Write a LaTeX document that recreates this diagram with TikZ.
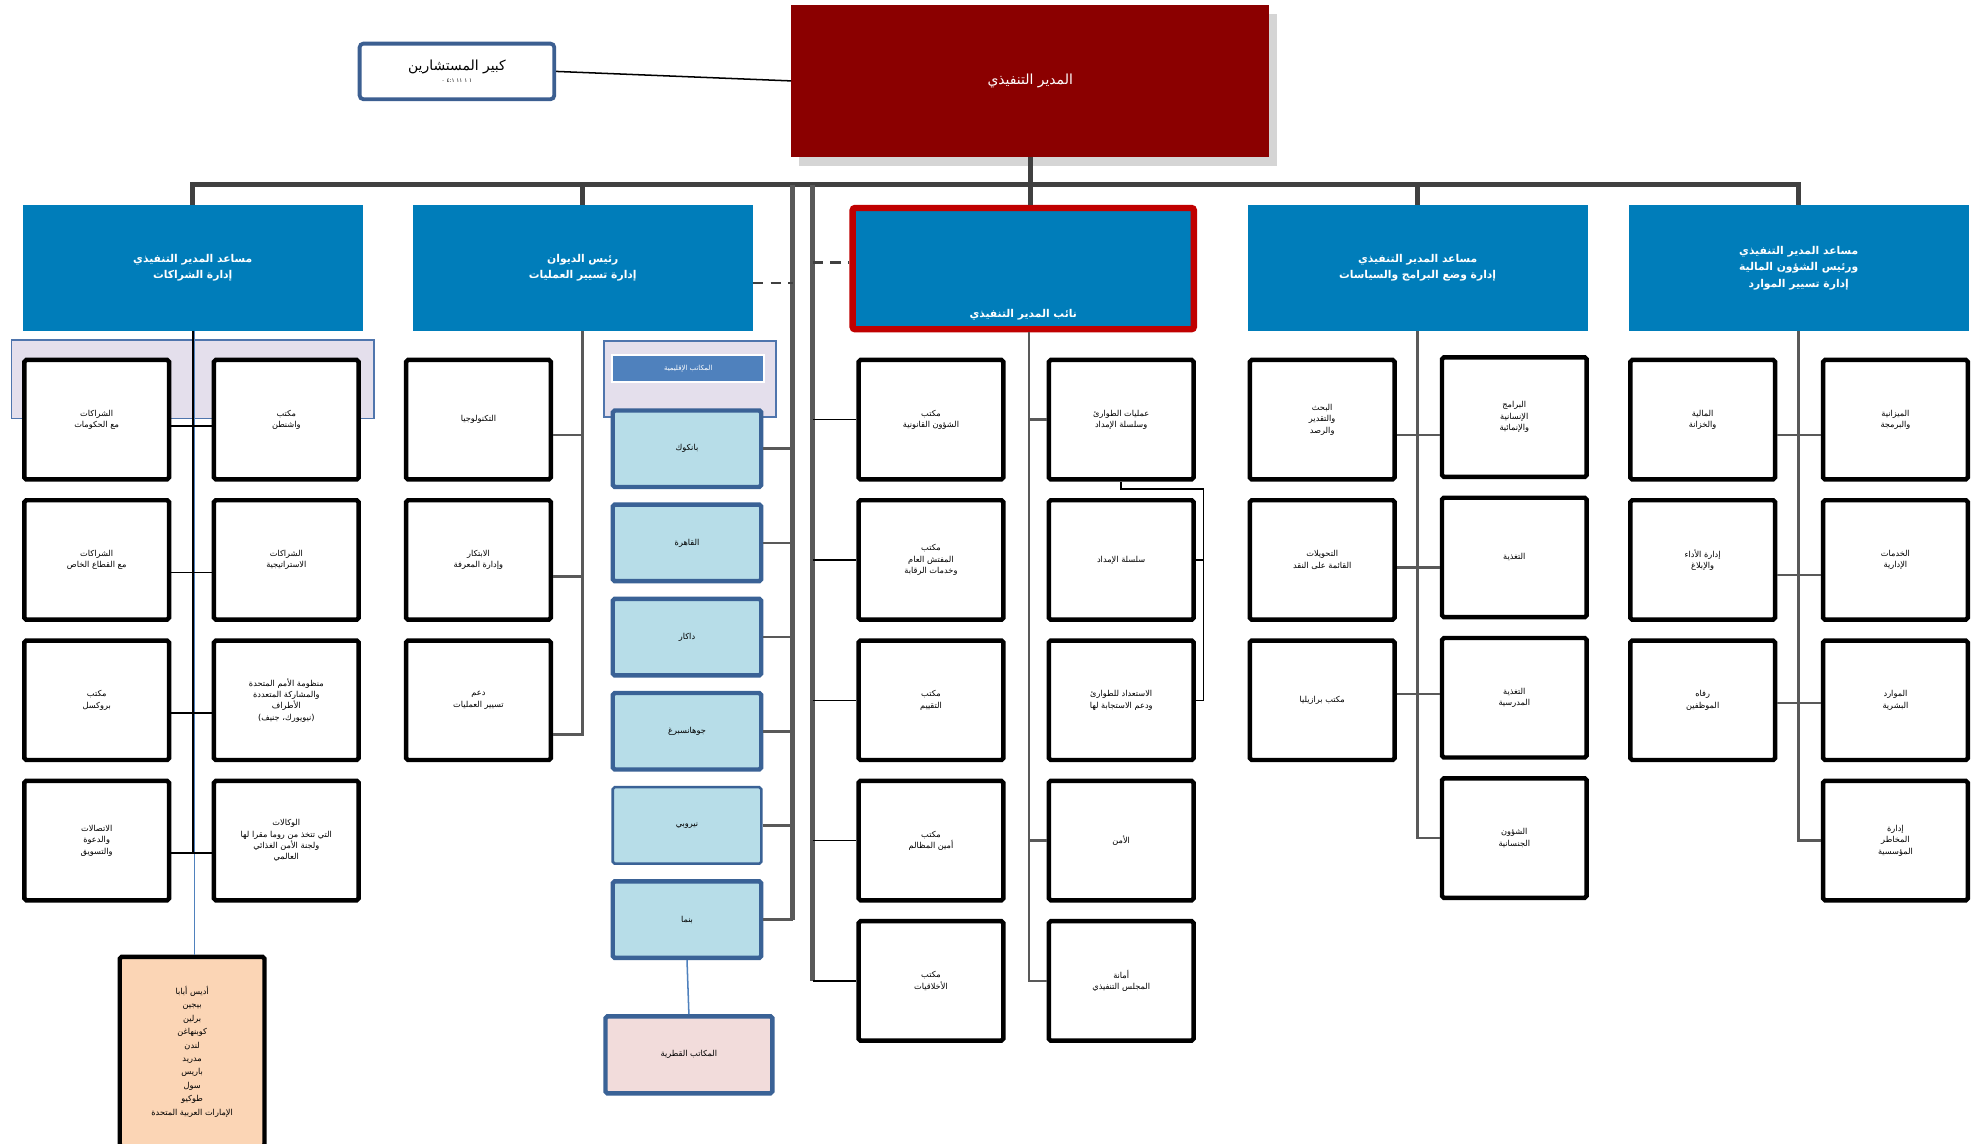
\documentclass[tikz,border=0pt]{standalone}
\usepackage{fontspec}
\usetikzlibrary{positioning, shadows}
\newfontfamily\arabicfont[Script=Arabic]{DejaVu Sans}
\TeXXeTstate=1
\newcommand{\arline}[1]{\beginR #1\endR}

\definecolor{edred}{RGB}{139,0,0}
\definecolor{headblue}{RGB}{0,125,186}
\definecolor{depred}{RGB}{192,0,0}
\definecolor{advblue}{RGB}{60,95,145}
\definecolor{panelfill}{RGB}{228,223,236}
\definecolor{panelblue}{RGB}{79,117,173}
\definecolor{regheadblue}{RGB}{79,129,189}
\definecolor{regfill}{RGB}{183,221,232}
\definecolor{regblue}{RGB}{58,98,150}
\definecolor{countrypink}{RGB}{242,220,219}
\definecolor{peach}{RGB}{251,213,181}
\definecolor{busgray}{RGB}{64,64,64}
\definecolor{spinegray}{RGB}{89,89,89}
\definecolor{linkblue}{RGB}{79,129,189}

\begin{document}
\begin{tikzpicture}[x=1pt, y=-1pt, node distance=111pt]

		% Define block styles
		\tikzstyle{edbox} = [rectangle, fill=edred, minimum width=378pt, minimum height=120pt, text=white, font=\arabicfont\fontsize{11}{13}\selectfont, drop shadow={shadow xshift=6pt, shadow yshift=-7pt, fill=black!32}]
		\tikzstyle{advbox} = [rectangle, draw=advblue, line width=3pt, rounded corners=3pt, fill=white, minimum width=154pt, minimum height=44pt, align=center, font=\arabicfont\fontsize{11}{12}\selectfont]
		\tikzstyle{headbox} = [rectangle, fill=headblue, minimum width=269pt, minimum height=100pt, text=white, align=center, font=\arabicfont\bfseries\fontsize{8.5}{13}\selectfont]
		\tikzstyle{unitbox} = [rectangle, draw, line width=3.5pt, rounded corners=1.5pt, fill=white, minimum width=114.5pt, minimum height=94.5pt, align=center, font=\arabicfont\fontsize{6.5}{9}\selectfont]
		\tikzstyle{regbox} = [rectangle, draw=regblue, line width=3.5pt, rounded corners=1.5pt, fill=regfill, minimum width=117.5pt, minimum height=60.5pt, font=\arabicfont\fontsize{6.5}{9}\selectfont]
		\tikzstyle{bgpanel} = [fill=panelfill, draw=panelblue, line width=1.3pt]
		\tikzstyle{bus} = [draw=busgray, line width=4pt]
		\tikzstyle{spine} = [draw=spinegray, line width=2pt]
		\tikzstyle{link} = [draw=black, line width=1.2pt]
		\tikzstyle{bluelink} = [draw=linkblue, line width=1.2pt]
		\tikzstyle{dashline} = [draw=busgray, line width=2pt, dash pattern=on 8pt off 6pt]

		\useasboundingbox[fill=white] (0,0) rectangle (1568,905);

		% Top
		\node[edbox] (ed) at (815,64) {\arline{المدير التنفيذي}};
		\node[advbox] (adv) at (361.5,56.5) {\arline{كبير المستشارين}\\[-3pt]{\fontsize{4.5}{5}\selectfont\arline{١ ١ ١١ ٤:١ ٠}}};
		\draw[link] (adv.east) -- (ed.west);

		% Heads
		\node[headbox] (heada) at (152.5,212) {\arline{مساعد المدير التنفيذي}\\\arline{إدارة الشراكات}};
		\node[headbox] (headb) at (461,212) {\arline{رئيس الديوان}\\\arline{إدارة تسيير العمليات}};
		\node[headbox] (headd) at (1121.5,212) {\arline{مساعد المدير التنفيذي}\\\arline{إدارة وضع البرامج والسياسات}};
		\node[headbox] (heade) at (1423,212) {\arline{مساعد المدير التنفيذي}\\\arline{ورئيس الشؤون المالية}\\\arline{إدارة تسيير الموارد}};
		\node[rectangle, fill=headblue, draw=depred, line width=5pt, rounded corners=2pt, minimum width=270pt, minimum height=96pt,
			label={[anchor=south, yshift=6pt, text=white, font=\arabicfont\bfseries\fontsize{8.5}{10}\selectfont]south:\beginR نائب المدير التنفيذي\endR}] (deputy) at (809.5,212.5) {};

		% Bus
		\coordinate (busy) at (0,146);
		\coordinate (cabline) at (627,146);
		\coordinate (depline) at (643,146);
		\draw[bus] (heada.north) |- (busy -| heade.north) -- (heade.north);
		\draw[bus] (headb.north) -- (headb.north |- busy);
		\draw[bus] (headd.north) -- (headd.north |- busy);
		\draw[bus] (ed.south) -- (ed.south |- deputy.north);

		% Panels
		\draw[bgpanel] (9,269) rectangle (296,331);
		\draw[bgpanel] (478,270) rectangle (614,330);
		\node[rectangle, fill=regheadblue, draw=white, line width=1.5pt, minimum width=120pt, minimum height=22pt, text=white, font=\arabicfont\fontsize{5.5}{6}\selectfont] (reghead) at (544.5,291.5) {\arline{المكاتب الإقليمية}};

		% Partnerships
		\node[unitbox] (partgov) at (76.5,332) {\arline{الشراكات}\\\arline{مع الحكومات}};
		\node[unitbox, below of=partgov] (partpriv) {\arline{الشراكات}\\\arline{مع القطاع الخاص}};
		\node[unitbox, below of=partpriv] (brussels) {\arline{مكتب}\\\arline{بروكسل}};
		\node[unitbox, below of=brussels] (comms) {\arline{الاتصالات}\\\arline{والدعوة}\\\arline{والتسويق}};
		\node[unitbox] (washington) at (226.5,332) {\arline{مكتب}\\\arline{واشنطن}};
		\node[unitbox, below of=washington] (stratpart) {\arline{الشراكات}\\\arline{الاستراتيجية}};
		\node[unitbox, below of=stratpart] (unsystem) {\arline{منظومة الأمم المتحدة}\\\arline{والمشاركة المتعددة}\\\arline{الأطراف}\\\arline{(نيويورك، جنيف)}};
		\node[unitbox, below of=unsystem] (romeagencies) {\arline{الوكالات}\\\arline{التي تتخذ من روما مقرا لها}\\\arline{ولجنة الأمن الغذائي}\\\arline{العالمي}};
		\node[unitbox, fill=peach, minimum height=150pt, font=\arabicfont\fontsize{6.5}{10.6}\selectfont] (liaison) at (152,832) {\arline{أديس أبابا}\\\arline{بيجين}\\\arline{برلين}\\\arline{كوبنهاغن}\\\arline{لندن}\\\arline{مدريد}\\\arline{باريس}\\\arline{سول}\\\arline{طوكيو}\\\arline{الإمارات العربية المتحدة}};

		\draw[link] (heada.south) -- ([yshift=-10pt]heada.south |- comms.east);
		\draw[bluelink] ([xshift=1.5pt]heada.south) -- ([xshift=1.5pt]heada.south |- liaison.north);
		\draw[link] ([yshift=-5pt]partgov.east) -- ([yshift=-5pt]washington.west);
		\draw[link] ([yshift=-10pt]partpriv.east) -- ([yshift=-10pt]partpriv.east -| stratpart.west);
		\draw[link] ([yshift=-10pt]brussels.east) -- ([yshift=-10pt]brussels.east -| unsystem.west);
		\draw[link] ([yshift=-10pt]comms.east) -- ([yshift=-10pt]comms.east -| romeagencies.west);

		% Chief of cabinet
		\node[unitbox] (technology) at (378.5,332) {\arline{التكنولوجيا}};
		\node[unitbox, below of=technology] (innovation) {\arline{الابتكار}\\\arline{وإدارة المعرفة}};
		\node[unitbox, below of=innovation] (opsupport) {\arline{دعم}\\\arline{تسيير العمليات}};
		\draw[spine] (headb.south) -- ([yshift=-27pt]headb.south |- opsupport.east) -- ([yshift=-27pt]opsupport.east);
		\draw[spine] ([yshift=-12pt]technology.east) -- ([yshift=-12pt]technology.east -| headb.south);
		\draw[spine] ([yshift=-13pt]innovation.east) -- ([yshift=-13pt]innovation.east -| headb.south);

		% Regional offices
		\node[regbox] (bangkok) at (543.5,355) {\arline{بانكوك}};
		\node[regbox, below of=bangkok, node distance=74.5pt] (cairo) {\arline{القاهرة}};
		\node[regbox, below of=cairo, node distance=74.5pt] (dakar) {\arline{داكار}};
		\node[regbox, below of=dakar, node distance=74.5pt] (johannesburg) {\arline{جوهانسبرغ}};
		\node[regbox, below of=johannesburg, node distance=74.5pt, line width=2pt] (nairobi) {\arline{نيروبي}};
		\node[regbox, below of=nairobi, node distance=74.5pt] (panama) {\arline{بنما}};
		\node[regbox, fill=countrypink, minimum width=132pt, minimum height=61pt] (countryoffices) at (545,834.5) {\arline{المكاتب القطرية}};

		\draw[spine, line width=4pt] (cabline) -- (cabline |- panama.east);
		\draw[spine] (bangkok.east) -- (bangkok.east -| cabline);
		\draw[spine] (cairo.east) -- (cairo.east -| cabline);
		\draw[spine] (dakar.east) -- (dakar.east -| cabline);
		\draw[spine] (johannesburg.east) -- (johannesburg.east -| cabline);
		\draw[spine] (nairobi.east) -- (nairobi.east -| cabline);
		\draw[spine] (panama.east) -- (panama.east -| cabline);
		\draw[bluelink] (panama.south) -- (countryoffices.north);
		\draw[dashline] ([yshift=-12pt]headb.east) -- ([yshift=-12pt]headb.east -| cabline);

		% Deputy, left column
		\node[unitbox] (legal) at (736.5,332) {\arline{مكتب}\\\arline{الشؤون القانونية}};
		\node[unitbox, below of=legal] (oig) {\arline{مكتب}\\\arline{المفتش العام}\\\arline{وخدمات الرقابة}};
		\node[unitbox, below of=oig] (evaluation) {\arline{مكتب}\\\arline{التقييم}};
		\node[unitbox, below of=evaluation] (ombudsman) {\arline{مكتب}\\\arline{أمين المظالم}};
		\node[unitbox, below of=ombudsman] (ethics) {\arline{مكتب}\\\arline{الأخلاقيات}};

		\draw[spine, line width=4pt] (depline) -- (depline |- ethics.west);
		\draw[dashline] ([yshift=5pt]deputy.west -| depline) -- ([yshift=5pt]deputy.west);
		\draw[link] (depline |- legal.west) -- (legal.west);
		\draw[link] (depline |- oig.west) -- (oig.west);
		\draw[link] (depline |- evaluation.west) -- (evaluation.west);
		\draw[link] (depline |- ombudsman.west) -- (ombudsman.west);
		\draw[link] (depline |- ethics.west) -- (ethics.west);

		% Deputy, right column
		\node[unitbox] (emergencyops) at (887,332) {\arline{عمليات الطوارئ}\\\arline{وسلسلة الإمداد}};
		\node[unitbox, below of=emergencyops] (supplychain) {\arline{سلسلة الإمداد}};
		\node[unitbox, below of=supplychain] (preparedness) {\arline{الاستعداد للطوارئ}\\\arline{ودعم الاستجابة لها}};
		\node[unitbox, below of=preparedness] (security) {\arline{الأمن}};
		\node[unitbox, below of=security] (secretariat) {\arline{أمانة}\\\arline{المجلس التنفيذي}};

		\coordinate (depspine) at ([xshift=4.5pt]deputy.south);
		\coordinate (bracket) at (952,387);
		\draw[spine] (depspine) -- (depspine |- secretariat.west) -- (secretariat.west);
		\draw[spine] (depspine |- emergencyops.west) -- (emergencyops.west);
		\draw[spine] (depspine |- security.west) -- (security.west);
		\draw[link] (emergencyops.south) |- (bracket) -- (bracket |- preparedness.east) -- (preparedness.east);
		\draw[link] (supplychain.east) -- (supplychain.east -| bracket);

		% Programmes and policy
		\node[unitbox] (research) at (1046,332) {\arline{البحث}\\\arline{والتقدير}\\\arline{والرصد}};
		\node[unitbox, below of=research] (cashtransfers) {\arline{التحويلات}\\\arline{القائمة على النقد}};
		\node[unitbox, below of=cashtransfers] (brasilia) {\arline{مكتب برازيليا}};
		\node[unitbox] (humanitarian) at (1198,330) {\arline{البرامج}\\\arline{الإنسانية}\\\arline{والإنمائية}};
		\node[unitbox, below of=humanitarian] (nutrition) {\arline{التغذية}};
		\node[unitbox, below of=nutrition] (schoolmeals) {\arline{التغذية}\\\arline{المدرسية}};
		\node[unitbox, below of=schoolmeals] (gender) {\arline{الشؤون}\\\arline{الجنسانية}};

		\draw[spine] (headd.south) -- (headd.south |- gender.west) -- (gender.west);
		\draw[spine] ([yshift=-12pt]research.east) -- ([yshift=-12pt]research.east -| humanitarian.west);
		\draw[spine] ([yshift=-6pt]cashtransfers.east) -- ([yshift=-6pt]cashtransfers.east -| nutrition.west);
		\draw[spine] ([yshift=5pt]brasilia.east) -- ([yshift=5pt]brasilia.east -| schoolmeals.west);

		% Resources
		\node[unitbox] (finance) at (1347,332) {\arline{المالية}\\\arline{والخزانة}};
		\node[unitbox, below of=finance] (performance) {\arline{إدارة الأداء}\\\arline{والإبلاغ}};
		\node[unitbox, below of=performance] (wellness) {\arline{رفاه}\\\arline{الموظفين}};
		\node[unitbox] (budget) at (1499.5,332) {\arline{الميزانية}\\\arline{والبرمجة}};
		\node[unitbox, below of=budget] (adminservices) {\arline{الخدمات}\\\arline{الإدارية}};
		\node[unitbox, below of=adminservices] (humanres) {\arline{الموارد}\\\arline{البشرية}};
		\node[unitbox, below of=humanres] (riskmgmt) {\arline{إدارة}\\\arline{المخاطر}\\\arline{المؤسسية}};

		\draw[spine] (heade.south) -- (heade.south |- riskmgmt.west) -- (riskmgmt.west);
		\draw[spine] ([yshift=-12pt]finance.east) -- ([yshift=-12pt]budget.west);
		\draw[spine] ([yshift=-12pt]performance.east) -- ([yshift=-12pt]adminservices.west);
		\draw[spine] ([yshift=-2pt]wellness.east) -- ([yshift=-2pt]wellness.east -| humanres.west);

	\end{tikzpicture}
\end{document}
